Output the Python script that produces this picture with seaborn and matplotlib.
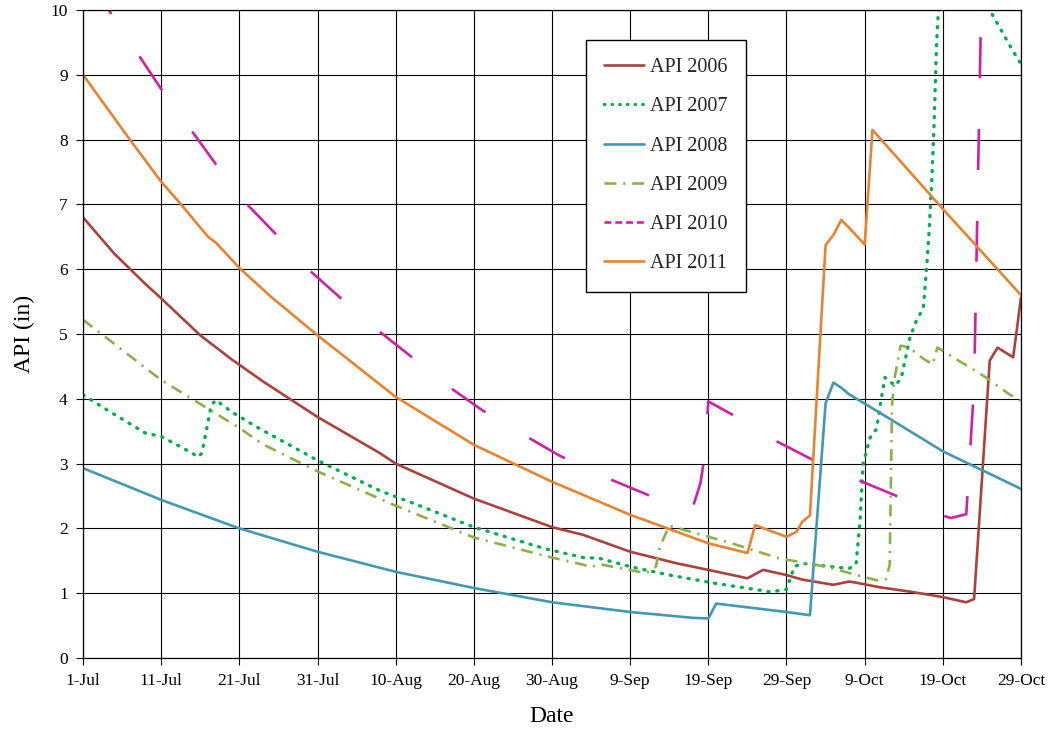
import matplotlib
matplotlib.use("Agg")
import matplotlib.pyplot as plt
from matplotlib.lines import Line2D
import seaborn as sns

# Days counted from 1 July; axis ticks every 10 days
tick_days = [0, 10, 20, 30, 40, 50, 60, 70, 80, 90, 100, 110, 120]
tick_labels = ["1-Jul", "11-Jul", "21-Jul", "31-Jul", "10-Aug", "20-Aug", "30-Aug",
               "9-Sep", "19-Sep", "29-Sep", "9-Oct", "19-Oct", "29-Oct"]
y_ticks = [0, 1, 2, 3, 4, 5, 6, 7, 8, 9, 10]

# Antecedent precipitation index (in) per season
days_2006 = [0, 4, 8, 10, 15, 19, 23, 30, 38, 40, 50, 60, 64, 70, 76, 80, 85, 87, 90,
             92, 96, 98, 99, 102, 106, 110, 113, 114, 116, 117, 119, 120]
api_2006 = [6.80, 6.24, 5.77, 5.55, 4.98, 4.61, 4.27, 3.72, 3.16, 3.00, 2.46, 2.02, 1.90,
            1.64, 1.46, 1.36, 1.23, 1.36, 1.28, 1.21, 1.13, 1.18, 1.16, 1.09, 1.02, 0.94,
            0.86, 0.91, 4.59, 4.79, 4.64, 5.56]

days_2007 = [0, 4, 8, 10, 14, 14.7, 15.2, 15.8, 16.4, 17, 19, 22, 30, 38, 42, 50, 59, 64,
             66, 70, 75, 81, 88, 90, 91, 92, 95, 98, 98.9, 99.4, 99.8, 100.7, 101.5, 102,
             102.6, 103.9, 104.7, 105.8, 106.6, 107.5, 107.9, 108.2, 108.6, 108.9, 109.2,
             110, 116, 119, 120]
api_2007 = [4.06, 3.76, 3.47, 3.42, 3.16, 3.10, 3.16, 3.52, 3.90, 3.98, 3.80, 3.58, 3.05,
            2.58, 2.40, 2.02, 1.69, 1.55, 1.54, 1.41, 1.28, 1.15, 1.02, 1.06, 1.41, 1.46,
            1.42, 1.38, 1.45, 2.10, 3.00, 3.40, 3.53, 3.91, 4.33, 4.20, 4.33, 4.95, 5.20,
            5.40, 5.99, 6.50, 7.40, 8.30, 9.50, 11.20, 10.00, 9.36, 9.17]

days_2008 = [0, 10, 20, 30, 40, 50, 60, 70, 78, 80, 81, 90, 93, 95, 96, 97, 98, 102, 110, 120]
api_2008 = [2.93, 2.44, 2.00, 1.64, 1.33, 1.08, 0.86, 0.71, 0.62, 0.61, 0.84, 0.71, 0.66,
            3.93, 4.25, 4.17, 4.07, 3.78, 3.19, 2.61]

days_2009 = [0, 10, 20, 23, 30, 40, 50, 60, 64, 65, 66, 72, 73.3, 73.8, 75, 83, 89, 95,
             99, 101.5, 102.7, 103.2, 103.5, 103.8, 104.6, 105.7, 107.5, 108.7, 109.3,
             112, 113.8, 115.5, 118.5, 120]
api_2009 = [5.22, 4.29, 3.55, 3.30, 2.88, 2.35, 1.86, 1.55, 1.44, 1.40, 1.45, 1.31, 1.41,
            1.72, 2.04, 1.77, 1.54, 1.41, 1.28, 1.20, 1.21, 1.44, 3.90, 4.30, 4.82, 4.79,
            4.62, 4.53, 4.79, 4.59, 4.46, 4.33, 4.07, 3.97]

days_2010 = [0, 10, 14, 17, 21, 25, 29, 33, 38, 42, 47, 51, 57, 61, 67, 72, 77, 78, 79,
             79.5, 80, 83, 88, 93, 98.5, 103.5, 109, 111, 113, 114, 114.5, 115, 120]
api_2010 = [10.60, 8.78, 8.12, 7.62, 7.00, 6.50, 5.98, 5.55, 5.03, 4.65, 4.17, 3.83, 3.40,
            3.12, 2.78, 2.53, 2.27, 2.32, 2.70, 3.10, 3.96, 3.76, 3.39, 3.08, 2.78, 2.53,
            2.24, 2.16, 2.22, 4.20, 7.40, 10.70, 10.40]

days_2011 = [0, 6, 10, 12.4, 16, 17, 20, 24, 30, 40, 50, 60, 70, 80, 85, 86, 90, 91.3,
             92, 93, 95, 96, 97, 98, 100, 101, 110, 120]
api_2011 = [9.00, 8.00, 7.35, 7.02, 6.50, 6.41, 6.02, 5.58, 4.98, 4.03, 3.29, 2.72, 2.21,
            1.77, 1.62, 2.05, 1.87, 1.95, 2.10, 2.20, 6.37, 6.53, 6.76, 6.64, 6.38, 8.15,
            6.93, 5.60]

series = [
    ("API 2006", days_2006, api_2006),
    ("API 2007", days_2007, api_2007),
    ("API 2008", days_2008, api_2008),
    ("API 2009", days_2009, api_2009),
    ("API 2010", days_2010, api_2010),
    ("API 2011", days_2011, api_2011),
]

line_styles = {
    "API 2006": dict(color="#AD413E", linewidth=1.9, linestyle="-"),
    "API 2007": dict(color="#00B050", linewidth=2.4, linestyle=(0, (0.35, 2.35)),
                     dash_capstyle="round"),
    "API 2008": dict(color="#4199B6", linewidth=1.9, linestyle="-"),
    "API 2009": dict(color="#8CB14B", linewidth=1.9, linestyle=(0, (4.5, 2.6, 0.8, 2.6))),
    "API 2010": dict(color="#D020A4", linewidth=1.9, linestyle=(8.7, (15.5, 19.3))),
    "API 2011": dict(color="#E8832F", linewidth=1.9, linestyle="-"),
}

# Short-pattern versions for the legend keys
legend_styles = dict(line_styles)
legend_styles["API 2007"] = dict(color="#00B050", linewidth=2.4, linestyle=(0, (0.1, 2.2)),
                                 dash_capstyle="round")
legend_styles["API 2010"] = dict(color="#D020A4", linewidth=1.9, linestyle=(0, (2.6, 1.5)))

sns.set_theme(style="white")
plt.rcParams["font.family"] = ["Liberation Serif", "DejaVu Serif"]

fig = plt.figure(figsize=(10.54, 7.33), dpi=100)
ax = fig.add_axes([83 / 1054, 75 / 733, 938 / 1054, 648 / 733])

for name, d, v in series:
    sns.lineplot(x=d, y=v, ax=ax, estimator=None, legend=False, **line_styles[name])

ax.set_xlim(0, 120)
ax.set_ylim(0, 10)
ax.set_xticks(tick_days, tick_labels)
ax.set_yticks(y_ticks)
ax.grid(True, color="black", linewidth=0.8)
ax.set_axisbelow(True)
for sp in ax.spines.values():
    sp.set_color("black")
    sp.set_linewidth(0.9)
ax.tick_params(axis="both", direction="out", length=5, width=0.8, color="black",
               labelsize=12.5, labelcolor="black", bottom=True, left=True, pad=6)

ax.set_xlabel("Date", fontsize=17, labelpad=12, color="black")
ax.set_ylabel("API (in)", fontsize=17, labelpad=11, color="black")

handles = [Line2D([], [], **legend_styles[name]) for name, _, _ in series]
labels = [name for name, _, _ in series]
leg = ax.legend(handles, labels, loc="upper left",
                bbox_to_anchor=(586 / 1054, 1 - 40 / 733), bbox_transform=fig.transFigure,
                frameon=True, fancybox=False, framealpha=1, edgecolor="black",
                fontsize=14.5, handlelength=2.0, handletextpad=0.3, labelspacing=1.0,
                borderpad=0.9, borderaxespad=0)
leg.get_frame().set_linewidth(1.0)

fig.savefig("out.png", dpi=100)
